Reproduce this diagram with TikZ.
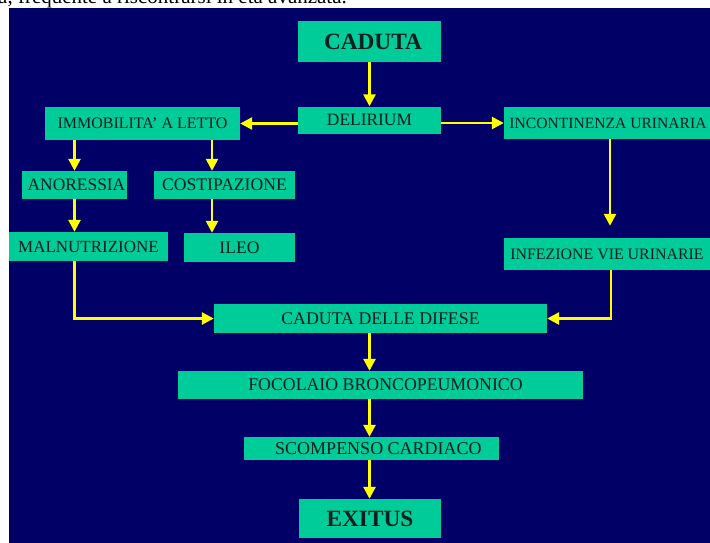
\documentclass[tikz,border=0pt]{standalone}
\usepackage{fontspec}
\setmainfont{Liberation Serif}
\usetikzlibrary{arrows.meta}
\definecolor{navy}{RGB}{0,0,102}
\definecolor{teal}{RGB}{0,204,153}
\definecolor{ink}{RGB}{15,30,30}
\definecolor{yel}{RGB}{255,255,0}
\tikzset{
  box/.style={fill=teal, text=ink, inner sep=0pt, anchor=center},
  fs/.style={font=\fontsize{#1}{#1}\selectfont},
  fb/.style={font=\fontsize{#1}{#1}\selectfont\bfseries},
  arr/.style={draw=yel, line width=2.6pt, -{Triangle[length=12pt,width=12pt]}},
}
\begin{document}
\begin{tikzpicture}[x=1pt,y=-1pt]
\useasboundingbox (0,0) rectangle (710,542);
\clip (0,0) rectangle (710,542);
\fill[white] (0,0) rectangle (710,542);
\node[anchor=base west, inner sep=0pt, fs=21] (top) at (-2,3) {a, frequente a riscontrarsi in età avanzata.};
\fill[navy] (9,8) rectangle (712,544);

\node[box, fb=23.3, minimum width=143, minimum height=41] (cad) at (369.5,41.5) {\hspace{7pt}CADUTA};
\node[box, fs=17.4, minimum width=143, minimum height=27] (del) at (369.5,120) {DELIRIUM\hspace{4pt}};
\node[box, fs=16, minimum width=195, minimum height=33] (imm) at (142.5,123.5) {IMMOBILITA’ A LETTO};
\node[box, fs=15.6, minimum width=208, minimum height=32] (inc) at (608,123) {INCONTINENZA URINARIA\hspace{8pt}};
\node[box, fs=17.4, minimum width=105, minimum height=28] (ano) at (74.5,185) {\hspace{4pt}ANORESSIA};
\node[box, fs=17.6, minimum width=141, minimum height=28] (cos) at (224.5,185) {COSTIPAZIONE};
\node[box, fs=17, minimum width=159, minimum height=29] (mal) at (88.5,246.5) {MALNUTRIZIONE};
\node[box, fs=17.6, minimum width=111, minimum height=29] (ileo) at (239.5,247.5) {ILEO\hspace{13pt}};
\node[box, fs=15.9, minimum width=206, minimum height=32] (inf) at (607,254) {INFEZIONE VIE URINARIE};
\node[box, fs=17.8, minimum width=333, minimum height=29] (cdd) at (380.5,318.5) {CADUTA DELLE DIFESE};
\node[box, fs=17.8, minimum width=405, minimum height=28] (foc) at (380.5,385) {\hspace{10pt}FOCOLAIO BRONCOPEUMONICO};
\node[box, fs=18, minimum width=255, minimum height=23] (sco) at (371.5,448.5) {\hspace{14pt}SCOMPENSO CARDIACO};
\node[box, fb=23.3, minimum width=142, minimum height=39] (exi) at (370,518.5) {EXITUS};

\draw[arr] (cad.south) -- (del.north);
\draw[arr] (del.west |- imm.east) -- (imm.east);
\draw[arr] (del.east |- inc.west) -- (inc.west);
\draw[arr] (imm.south -| ano.north) -- (ano.north);
\draw[arr] ([xshift=-12.5pt]cos.north |- imm.south) -- ([xshift=-12.5pt]cos.north);
\draw[arr] (ano.south) -- (ano.south |- mal.north);
\draw[arr] ([xshift=-12.5pt]cos.south) -- ([xshift=-12.5pt]cos.south |- ileo.north);
\draw[arr, shorten >=12pt] ([xshift=3pt]inf.north |- inc.south) -- ([xshift=3pt]inf.north);
\draw[arr] (mal.south -| ano.south) |- (cdd.west);
\draw[arr] ([xshift=4pt]inf.south) |- (cdd.east);
\draw[arr] (cdd.south -| cad.south) -- (foc.north -| cad.south);
\draw[arr] (foc.south -| cad.south) -- (sco.north -| cad.south);
\draw[arr] (sco.south -| cad.south) -- (exi.north -| cad.south);
\end{tikzpicture}
\end{document}
